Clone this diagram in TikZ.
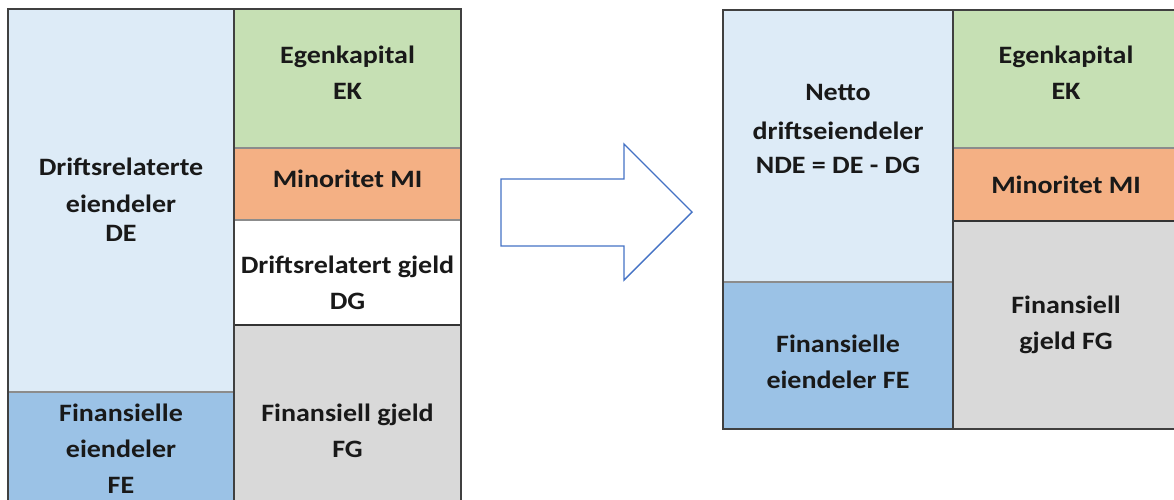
\documentclass[tikz,border=0pt]{standalone}
\usepackage{fontspec}
\setmainfont{Carlito}[FakeStretch=1.12]
\begin{document}
\begin{tikzpicture}[x=1pt,y=-1pt,
  lbl/.style={anchor=base,inner sep=0pt,text=black!90,font=\fontsize{25}{36}\selectfont\bfseries},
  frame/.style={draw=black!75,line width=1.3pt},
  thin/.style={draw=black!45,line width=1.1pt},
  dark/.style={draw=black!80,line width=1.1pt},
  bigarrow/.style={draw=arrowblue,line width=1.4pt,line join=miter}]
\definecolor{lightblue}{HTML}{DDEBF7}
\definecolor{midblue}{HTML}{9BC2E6}
\definecolor{green}{HTML}{C6E0B4}
\definecolor{orange}{HTML}{F4B084}
\definecolor{grey}{HTML}{D9D9D9}
\definecolor{arrowblue}{HTML}{4472C4}
\useasboundingbox (0,0) rectangle (1174,499);
\clip (0,0) rectangle (1174,499);

% ---- balance before: assets and financing
\fill[lightblue] (8,9) rectangle (234,392);
\fill[midblue]   (8,392) rectangle (234,510);
\fill[green]     (234,9) rectangle (461,148);
\fill[orange]    (234,148) rectangle (461,220);
\fill[white]     (234,220) rectangle (461,325);
\fill[grey]      (234,325) rectangle (461,510);
\draw[thin] (8,392) -- (234,392);
\draw[thin] (234,148) -- (461,148);
\draw[thin] (234,220) -- (461,220);
\draw[dark] (234,325) -- (461,325);
\draw[frame] (234,9) -- (234,510);
\draw[frame] (8,510) -- (8,9) -- (461,9) -- (461,510);

\node[lbl] (ek1) at (347.5,63) {Egenkapital};
\node[lbl] (ek2) at (347.5,99) {EK};
\node[lbl] (mi)  at (347.5,187) {Minoritet MI};
\node[lbl] (de1) at (121,175) {Driftsrelaterte};
\node[lbl] (de2) at (121,212) {eiendeler};
\node[lbl] (de3) at (121,241) {DE};
\node[lbl] (dg1) at (347.5,273) {Driftsrelatert gjeld};
\node[lbl] (dg2) at (347.5,309) {DG};
\node[lbl] (fe1) at (121,421) {Finansielle};
\node[lbl] (fe2) at (121,457) {eiendeler};
\node[lbl] (fe3) at (121,493) {FE};
\node[lbl] (fg1) at (347.5,421) {Finansiell gjeld};
\node[lbl] (fg2) at (347.5,457) {FG};

% ---- block arrow
\draw[bigarrow] (501,179) -- (624,179) -- (624,144) -- (692,212)
  -- (624,280) -- (624,246) -- (501,246) -- cycle;

% ---- balance after: net operating assets
\fill[lightblue] (723,10) rectangle (953,282);
\fill[midblue]   (723,282) rectangle (953,429);
\fill[green]     (953,10) rectangle (1180,148);
\fill[orange]    (953,148) rectangle (1180,221);
\fill[grey]      (953,221) rectangle (1180,429);
\draw[thin] (723,282) -- (953,282);
\draw[thin] (953,148) -- (1180,148);
\draw[dark] (953,221) -- (1180,221);
\draw[frame] (953,10) -- (953,429);
\draw[frame] (723,10) rectangle (1180,429);

\node[lbl] (nek1) at (1066,63) {Egenkapital};
\node[lbl] (nek2) at (1066,99) {EK};
\node[lbl] (nmi)  at (1066,193) {Minoritet MI};
\node[lbl] (nde1) at (838,100) {Netto};
\node[lbl] (nde2) at (838,139) {driftseiendeler};
\node[lbl] (nde3) at (838,173) {NDE = DE - DG};
\node[lbl] (nfe1) at (838,352) {Finansielle};
\node[lbl] (nfe2) at (838,388) {eiendeler FE};
\node[lbl] (nfg1) at (1066,313) {Finansiell};
\node[lbl] (nfg2) at (1066,349) {gjeld FG};
\end{tikzpicture}
\end{document}
